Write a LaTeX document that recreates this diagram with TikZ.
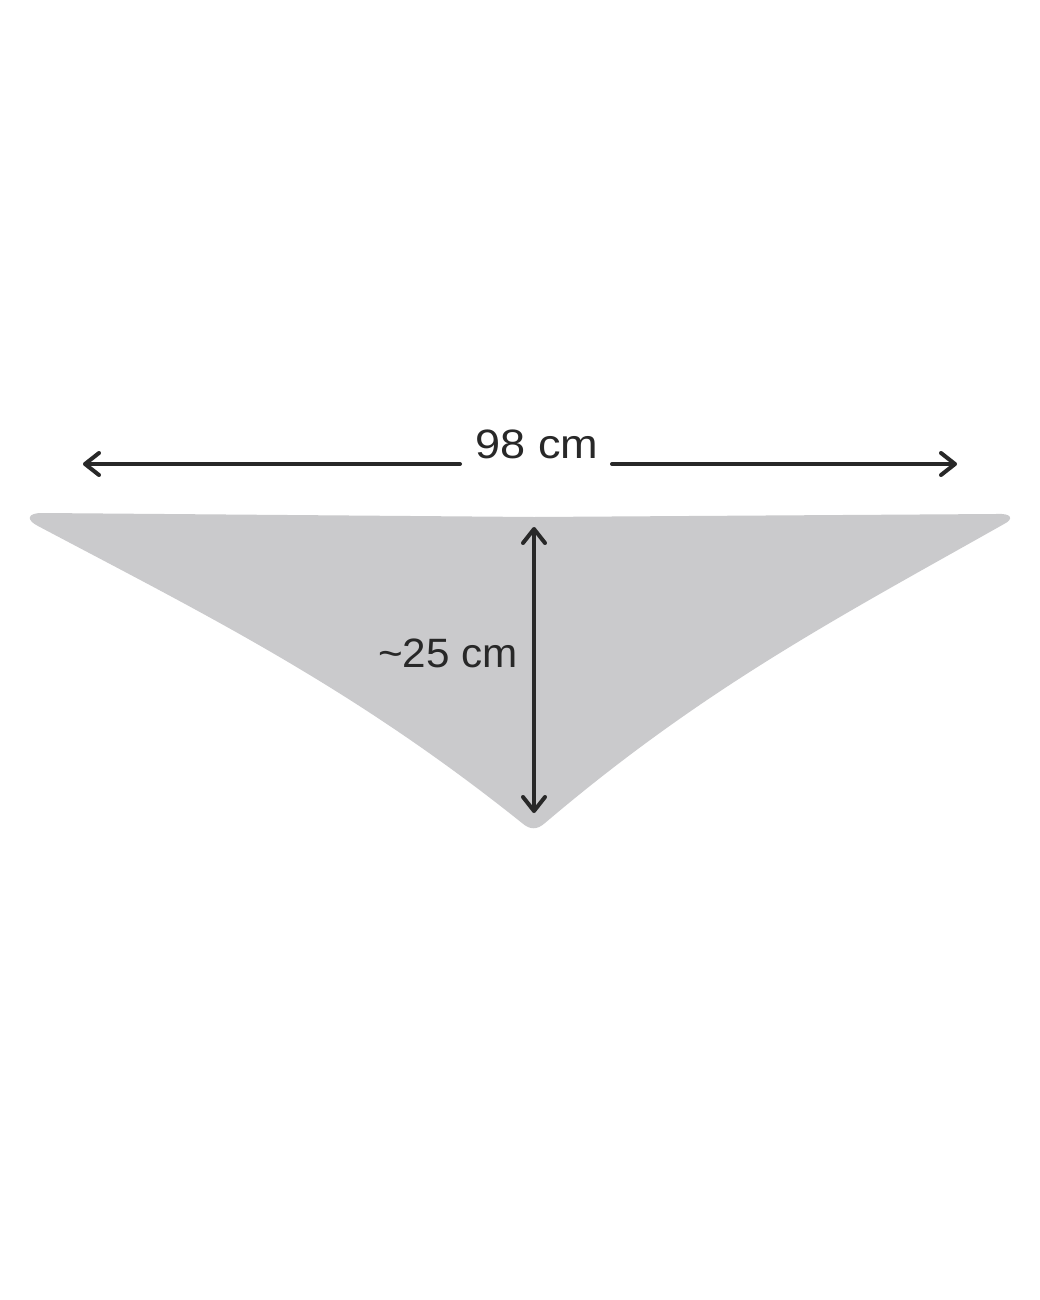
\documentclass[tikz,border=0pt]{standalone}
\usepackage{fontspec}
\setmainfont{Liberation Sans}
\usetikzlibrary{arrows.meta}
\definecolor{fabric}{RGB}{202,202,204}
\definecolor{ink}{RGB}{40,40,40}
\tikzset{
  barb/.tip={Straight Barb[length=14pt, width=22pt, line width=4pt, round]},
  dimline/.style={draw=ink, line width=4pt, line cap=round},
  dimlabel/.style={font=\fontsize{41}{48}\selectfont, text=ink, inner sep=0pt},
}
\begin{document}
\begin{tikzpicture}[x=1pt,y=-1pt]
\useasboundingbox[fill=white] (0,0) rectangle (1040,1300);
% bandana
\fill[fabric] (42,513) -- (534,517) -- (996,514)
  .. controls (1012,513) and (1014,519) .. (1004,524)
  .. controls (841,616) and (705,687) .. (545,823)
  .. controls (537,830) and (530,830) .. (522,823)
  .. controls (352,687) and (208,616) .. (38,526)
  .. controls (26,520) and (27,513) .. (42,513) -- cycle;
% horizontal dimension
\coordinate (hl) at (83,464);
\coordinate (hr) at (957,464);
\node[dimlabel, xscale=1.1] (t98) at (537,444) {98 cm};
\coordinate (hgl) at (460,464);
\coordinate (hgr) at (612,464);
\draw[dimline, -barb] (hgl) -- (hl);
\draw[dimline, -barb] (hgr) -- (hr);
% vertical dimension
\coordinate (vt) at (534,527);
\coordinate (vb) at (534,813);
\draw[dimline, barb-barb] (vt) -- (vb);
\node[dimlabel, xscale=1.03, anchor=east] (t25) at (518,653) {\textasciitilde 25 cm};
\end{tikzpicture}
\end{document}
